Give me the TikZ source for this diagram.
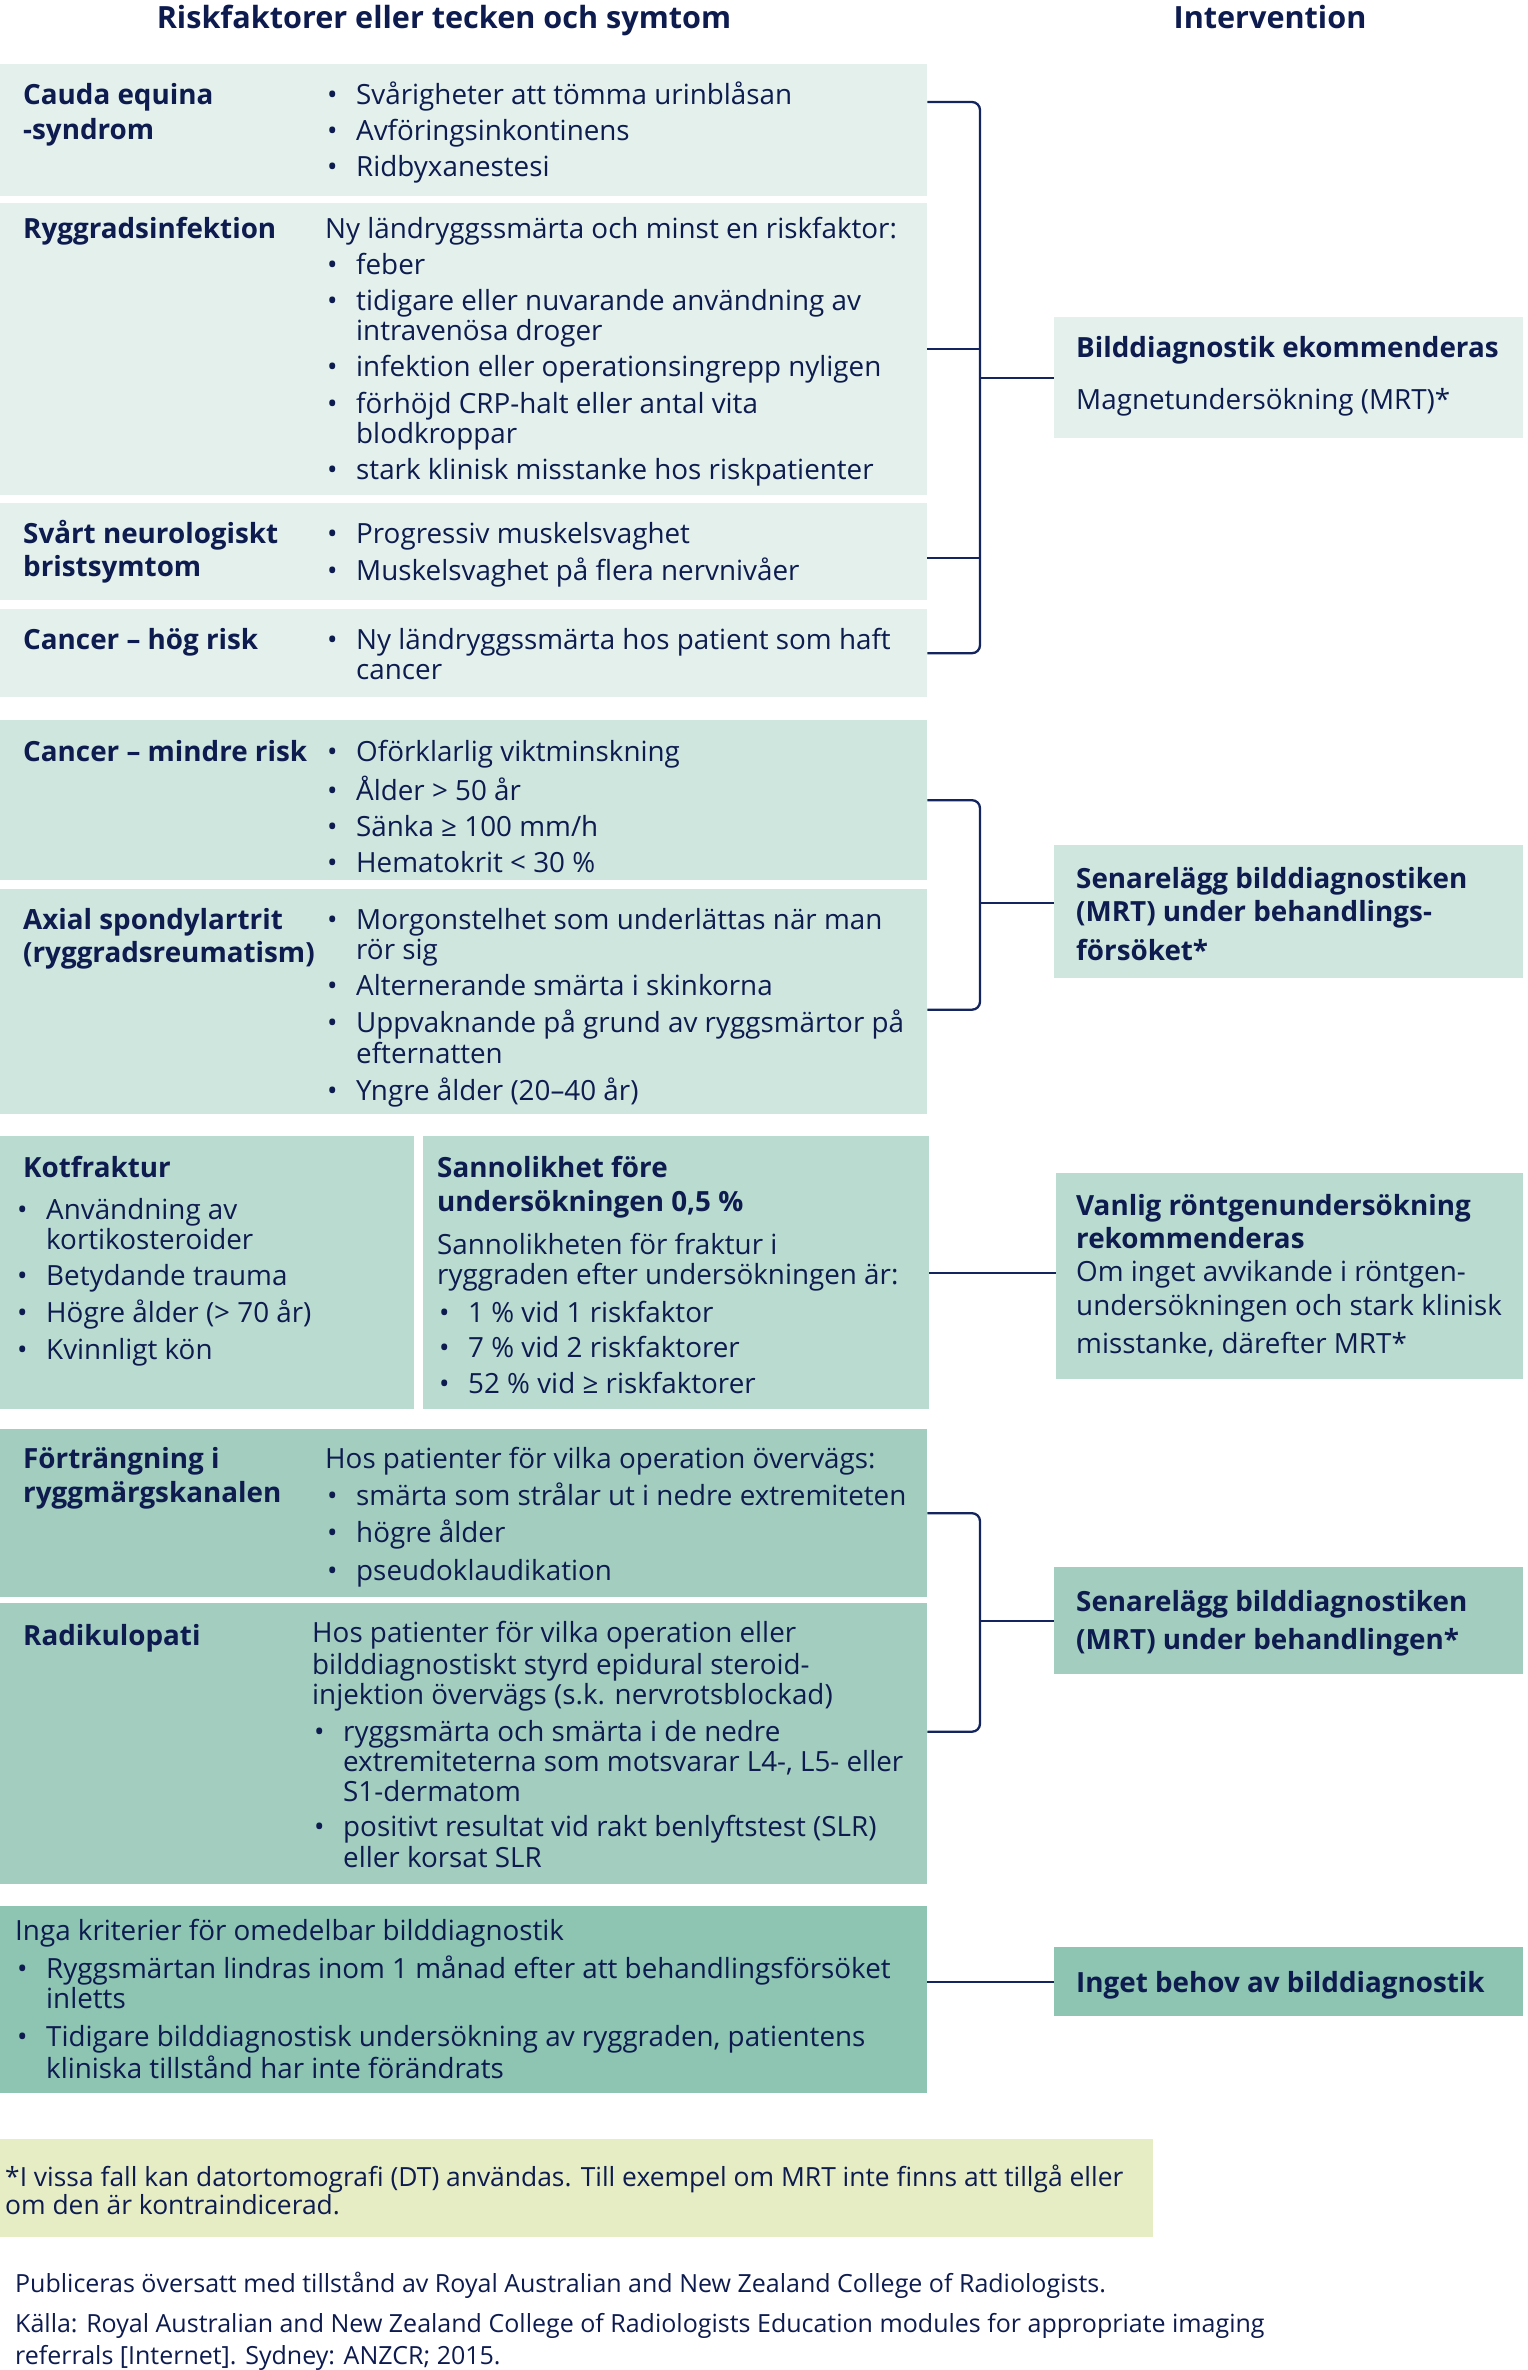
\documentclass[tikz,border=0pt]{standalone}
\usepackage{fontspec}
\setmainfont{Open Sans}
\usetikzlibrary{calc}
\definecolor{ink}{HTML}{0D1B4F}
\definecolor{lnc}{HTML}{14245E}
\definecolor{cA}{HTML}{E3F0EC}
\definecolor{cB}{HTML}{CFE6DF}
\definecolor{cC}{HTML}{BADBD0}
\definecolor{cD}{HTML}{A3CDBF}
\definecolor{cE}{HTML}{8DC4B2}
\definecolor{cF}{HTML}{E6EDC5}
\newcommand\bul{\makebox[31pt][l]{\hspace{2pt}•}}
\newcommand\ind{\makebox[31pt]{}}
\newcommand\tl[1]{\begin{tabular}[t]{@{}l@{}}#1\end{tabular}}
\begin{document}
\begin{tikzpicture}[x=1pt,y=-1pt,
  bx/.style={fill=#1, draw=none, inner sep=0pt, anchor=north west},
  txt/.style={anchor=base west, inner sep=0pt, text=ink, font=\fontsize{27.8}{30}\selectfont},
  lbl/.style={anchor=base west, inner sep=0pt, text=ink, font=\fontsize{27.8}{30}\selectfont\bfseries},
  hdr/.style={anchor=base, inner sep=0pt, text=ink, font=\fontsize{30.6}{36}\selectfont\bfseries},
  fnote/.style={anchor=base west, inner sep=0pt, text=ink, font=\fontsize{26.4}{28}\selectfont},
  small/.style={anchor=base west, inner sep=0pt, text=ink, font=\fontsize{25}{27}\selectfont},
  conn/.style={draw=lnc, line width=2.3pt},
]
\useasboundingbox (0,0) rectangle (1528,2370);
% boxes
\node[bx=cA, minimum width=927pt, minimum height=132pt] (b1) at (0,64) {};
\node[bx=cA, minimum width=927pt, minimum height=292pt] (b2) at (0,203) {};
\node[bx=cA, minimum width=927pt, minimum height=97pt] (b3) at (0,503) {};
\node[bx=cA, minimum width=927pt, minimum height=88pt] (b4) at (0,609) {};
\node[bx=cB, minimum width=927pt, minimum height=160pt] (b5) at (0,720) {};
\node[bx=cB, minimum width=927pt, minimum height=225pt] (b6) at (0,889) {};
\node[bx=cC, minimum width=414pt, minimum height=273pt] (b7) at (0,1136) {};
\node[bx=cC, minimum width=506pt, minimum height=273pt] (b8) at (423,1136) {};
\node[bx=cD, minimum width=927pt, minimum height=168pt] (b9) at (0,1429) {};
\node[bx=cD, minimum width=927pt, minimum height=281pt] (b10) at (0,1603) {};
\node[bx=cE, minimum width=927pt, minimum height=187pt] (b11) at (0,1906) {};
\node[bx=cA, minimum width=469pt, minimum height=121pt] (i1) at (1054,317) {};
\node[bx=cB, minimum width=469pt, minimum height=133pt] (i2) at (1054,845) {};
\node[bx=cC, minimum width=467pt, minimum height=206pt] (i3) at (1056,1173) {};
\node[bx=cD, minimum width=469pt, minimum height=107pt] (i4) at (1054,1567) {};
\node[bx=cE, minimum width=469pt, minimum height=69pt] (i5) at (1054,1947) {};
\node[bx=cF, minimum width=1153pt, minimum height=98pt] (fn) at (0,2139) {};
% connectors
\coordinate (v) at (980,0);
\coordinate (s1) at ($(b1.north east)+(0,38)$);
\coordinate (s3) at ($(b3.east)+(0,6)$);
\draw[conn, rounded corners=8pt] (s1) -| (i1.west -| v) |- (b4.east);
\draw[conn] (b2.east) -- (b2.east -| v);
\draw[conn] (s3) -- (s3 -| v);
\draw[conn] (i1.west -| v) -- (i1.west);
\coordinate (s6) at ($(b6.east)+(0,8)$);
\coordinate (j2) at ($(i2.west)+(0,-9)$);
\draw[conn, rounded corners=8pt] (b5.east) -| (j2 -| v) |- (s6);
\draw[conn] (j2 -| v) -- (j2);
\draw[conn] (b8.east) -- (b8.east -| i3.west);
\coordinate (s10) at ($(b10.east)+(0,-12)$);
\draw[conn, rounded corners=8pt] (b9.east) -| (i4.west -| v) |- (s10);
\draw[conn] (i4.west -| v) -- (i4.west);
\draw[conn] (i5.west -| b11.east) -- (i5.west);
% headers
\node[hdr] (h1) at (444,28) {Riskfaktorer eller tecken och symtom};
\node[hdr] (h2) at (1270,28) {Intervention};
% texts
\node[lbl] (t1a) at (23,104) {\tl{Cauda equina\\[5pt]-syndrom}};
\node[txt] (t1b) at (325,104) {\tl{\bul Svårigheter att tömma urinblåsan\\[6pt]\bul Avföringsinkontinens\\[6pt]\bul Ridbyxanestesi}};
\node[lbl] (t2a) at (23,238) {Ryggradsinfektion};
\node[txt] (t2b) at (325,238) {\tl{Ny ländryggssmärta och minst en riskfaktor:\\[6pt]\bul feber\\[6pt]\bul tidigare eller nuvarande användning av\\\ind intravenösa droger\\[6pt]\bul infektion eller operationsingrepp nyligen\\[6pt]\bul förhöjd CRP-halt eller antal vita\\\ind blodkroppar\\[6pt]\bul stark klinisk misstanke hos riskpatienter}};
\node[lbl] (t3a) at (23,543) {\tl{Svårt neurologiskt\\[3pt]bristsymtom}};
\node[txt] (t3b) at (325,543) {\tl{\bul Progressiv muskelsvaghet\\[6pt]\bul Muskelsvaghet på flera nervnivåer}};
\node[lbl] (t4a) at (23,649) {Cancer – hög risk};
\node[txt] (t4b) at (325,649) {\tl{\bul Ny ländryggssmärta hos patient som haft\\\ind cancer}};
\node[lbl] (t5a) at (23,761) {Cancer – mindre risk};
\node[txt] (t5b) at (325,761) {\tl{\bul Oförklarlig viktminskning\\[6pt]\bul Ålder > 50 år\\[6pt]\bul Sänka ≥ 100 mm/h\\[6pt]\bul Hematokrit < 30 \%}};
\node[lbl] (t6a) at (23,929) {\tl{Axial spondylartrit\\[3pt](ryggradsreumatism)}};
\node[txt] (t6b) at (325,929) {\tl{\bul Morgonstelhet som underlättas när man\\\ind rör sig\\[6pt]\bul Alternerande smärta i skinkorna\\[6pt]\bul Uppvaknande på grund av ryggsmärtor på\\\ind efternatten\\[6pt]\bul Yngre ålder (20–40 år)}};
\node[lbl] (t7a) at (23,1177) {Kotfraktur};
\node[txt] (t7b) at (15,1219) {\tl{\bul Användning av\\\ind kortikosteroider\\[6pt]\bul Betydande trauma\\[6pt]\bul Högre ålder (> 70 år)\\[6pt]\bul Kvinnligt kön}};
\node[lbl] (t8a) at (437,1177) {\tl{Sannolikhet före\\[4pt]undersökningen 0,5 \%}};
\node[txt] (t8b) at (437,1254) {\tl{Sannolikheten för fraktur i\\ryggraden efter undersökningen är:\\[8pt]\bul 1 \% vid 1 riskfaktor\\[5pt]\bul 7 \% vid 2 riskfaktorer\\[5pt]\bul 52 \% vid ≥ riskfaktorer}};
\node[lbl] (u1a) at (1076,357) {Bilddiagnostik ekommenderas};
\node[txt] (u1b) at (1076,409) {Magnetundersökning (MRT)*};
\node[lbl] (u2) at (1076,888) {\tl{Senarelägg bilddiagnostiken\\[3pt](MRT) under behandlings-\\[9pt]försöket*}};
\node[lbl] (u3a) at (1076,1215) {\tl{Vanlig röntgenundersökning\\[3pt]rekommenderas}};
\node[txt] (u3b) at (1076,1281) {\tl{Om inget avvikande i röntgen-\\[4pt]undersökningen och stark klinisk\\[8pt]misstanke, därefter MRT*}};
\node[lbl] (t9a) at (23,1468) {\tl{Förträngning i\\[4pt]ryggmärgskanalen}};
\node[txt] (t9b) at (325,1468) {\tl{Hos patienter för vilka operation övervägs:\\[6pt]\bul smärta som strålar ut i nedre extremiteten\\[5pt]\bul högre ålder\\[8pt]\bul pseudoklaudikation}};
\node[lbl] (t10a) at (23,1645) {Radikulopati};
\node[txt] (t10b) at (312,1642) {\tl{Hos patienter för vilka operation eller\\[2pt]bilddiagnostiskt styrd epidural steroid-\\injektion övervägs (s.k. nervrotsblockad)\\[7pt]\bul ryggsmärta och smärta i de nedre\\\ind extremiteterna som motsvarar L4-, L5- eller\\\ind S1-dermatom\\[5pt]\bul positivt resultat vid rakt benlyftstest (SLR)\\\ind eller korsat SLR}};
\node[lbl] (u4) at (1076,1611) {\tl{Senarelägg bilddiagnostiken\\[8pt](MRT) under behandlingen*}};
\node[txt] (t11) at (15,1940) {\tl{Inga kriterier för omedelbar bilddiagnostik\\[7pt]\bul Ryggsmärtan lindras inom 1 månad efter att behandlingsförsöket\\\ind inletts\\[8pt]\bul Tidigare bilddiagnostisk undersökning av ryggraden, patientens\\\ind kliniska tillstånd har inte förändrats}};
\node[lbl] (u5) at (1076,1992) {Inget behov av bilddiagnostik};
\node[fnote] (f1) at (5,2186) {\tl{*I vissa fall kan datortomografi (DT) användas. Till exempel om MRT inte finns att tillgå eller\\om den är kontraindicerad.}};
\node[small] (c1) at (15,2292) {\tl{Publiceras översatt med tillstånd av Royal Australian and New Zealand College of Radiologists.\\[13pt]Källa: Royal Australian and New Zealand College of Radiologists Education modules for appropriate imaging\\[5pt]referrals [Internet]. Sydney: ANZCR; 2015.}};
\end{tikzpicture}
\end{document}
